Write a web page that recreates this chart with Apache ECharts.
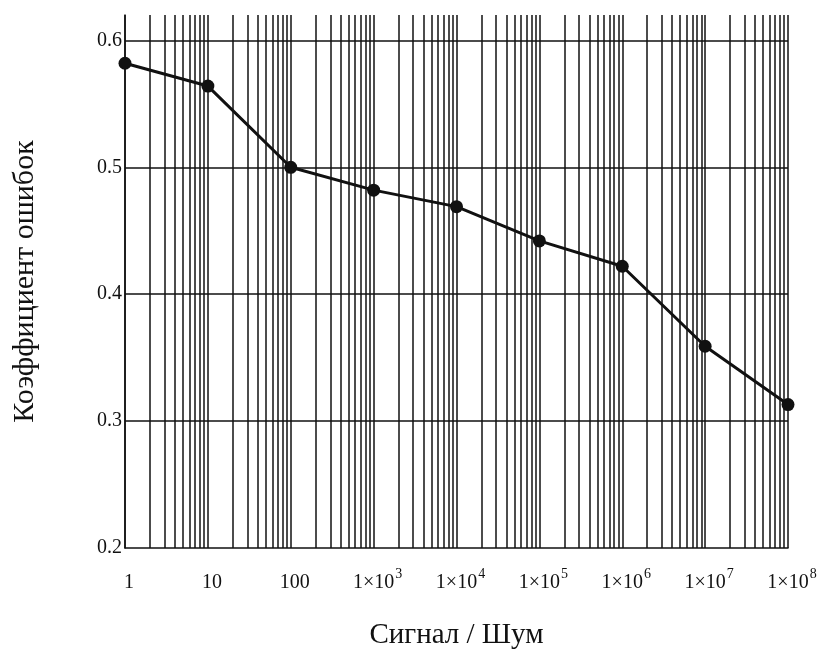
<!DOCTYPE html>
<html>
<head>
<meta charset="utf-8">
<script src="https://cdn.jsdelivr.net/npm/echarts@6/dist/echarts.min.js"></script>
<style>
  html, body { margin: 0; padding: 0; background: #fff; }
  #chart { width: 821px; height: 653px; }
</style>
</head>
<body>
<div id="chart"></div>
<script>
// signal/noise ratio (x) and error coefficient (y)
const snr = [1, 10, 100, 1e3, 1e4, 1e5, 1e6, 1e7, 1e8]
const errorRate = [0.582, 0.564, 0.500, 0.482, 0.469, 0.442, 0.422, 0.359, 0.313]

const yTicks = [0.2, 0.3, 0.4, 0.5, 0.6]
const yGrid = [0.3, 0.4, 0.5, 0.6]
const minorSteps = [2, 3, 4, 5, 6, 7, 8, 9]
const decades = [1, 10, 100, 1e3, 1e4, 1e5, 1e6, 1e7]

const font = '"Liberation Serif", "Times New Roman", serif'
const ink = '#111'

const gridLines = []
decades.forEach((d) => minorSteps.forEach((m) => gridLines.push({ xAxis: d * m })))
yGrid.forEach((v) => gridLines.push({ yAxis: v }))

function xLabel(v) {
  const k = Math.round(Math.log10(v))
  if (k < 3) return '{b|' + Math.round(v) + '}'
  return '{b|1×10}{sup|' + k + '}'
}

const chart = echarts.init(document.getElementById('chart'))
chart.setOption({
  animation: false,
  grid: { left: 125, right: 33, top: 15, bottom: 105, outerBoundsMode: 'none', containLabel: false },
  xAxis: {
    type: 'log',
    logBase: 10,
    min: 1,
    max: 1e8,
    name: 'Сигнал / Шум',
    nameLocation: 'middle',
    nameGap: 73,
    nameTextStyle: { fontFamily: font, fontSize: 29, color: ink },
    axisLine: { lineStyle: { color: ink, width: 1.5 } },
    axisTick: { show: false },
    splitLine: { show: true, lineStyle: { color: ink, width: 1.5 } },
    axisLabel: {
      margin: 19,
      padding: [0, 0, 0, 8],
      color: ink,
      formatter: xLabel,
      rich: {
        b: { fontFamily: font, fontSize: 20, lineHeight: 26, verticalAlign: 'bottom', color: ink },
        sup: { fontFamily: font, fontSize: 14, lineHeight: 14, verticalAlign: 'top', color: ink, padding: [0, 0, 0, 1] },
      },
    },
  },
  yAxis: {
    type: 'value',
    min: 0.2,
    max: 0.62,
    interval: 0.1,
    name: 'Коэффициент ошибок',
    nameLocation: 'middle',
    nameGap: 85,
    nameTextStyle: { fontFamily: font, fontSize: 30, color: ink },
    axisLine: { show: true, lineStyle: { color: ink, width: 1.5 } },
    axisTick: { show: false },
    splitLine: { show: false },
    axisLabel: {
      margin: 3,
      fontFamily: font,
      fontSize: 20,
      color: ink,
      showMaxLabel: false,
      formatter: (v) => {
        const hit = yTicks.find((t) => Math.abs(t - v) < 1e-6)
        return hit === undefined ? '' : hit.toFixed(1)
      },
    },
  },
  series: [
    {
      type: 'line',
      data: snr.map((x, i) => [x, errorRate[i]]),
      symbol: 'circle',
      symbolSize: 13,
      showAllSymbol: true,
      itemStyle: { color: ink },
      lineStyle: { color: ink, width: 3 },
      z: 5,
      markLine: {
        silent: true,
        symbol: 'none',
        label: { show: false },
        lineStyle: { color: ink, width: 1.5, type: 'solid' },
        data: gridLines,
        z: 1,
      },
    },
  ],
})
</script>
</body>
</html>
